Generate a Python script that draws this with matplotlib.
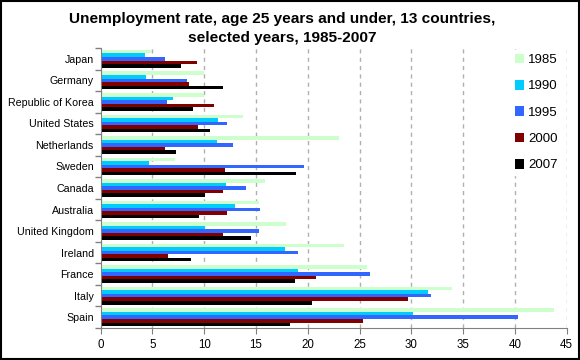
import numpy as np
import matplotlib
matplotlib.use("Agg")
import matplotlib.pyplot as plt

plt.rcParams['font.family'] = ['Liberation Sans', 'DejaVu Sans']

countries = ['Japan', 'Germany', 'Republic of Korea', 'United States', 'Netherlands',
             'Sweden', 'Canada', 'Australia', 'United Kingdom', 'Ireland',
             'France', 'Italy', 'Spain']
years = ['1985', '1990', '1995', '2000', '2007']
colors = ['#ccffcc', '#00ccff', '#3366ff', '#800000', '#000000']

v1985 = [5.0, 10.0, 10.0, 13.7, 23.0, 7.2, 15.9, 15.3, 17.9, 23.5, 25.7, 33.9, 43.8]
v1990 = [4.3, 4.4, 7.0, 11.3, 11.2, 4.7, 12.1, 13.0, 10.1, 17.8, 19.1, 31.6, 30.2]
v1995 = [6.2, 8.3, 6.4, 12.2, 12.8, 19.6, 14.0, 15.4, 15.3, 19.1, 26.0, 31.9, 40.3]
v2000 = [9.3, 8.5, 10.9, 9.4, 6.2, 12.0, 11.8, 12.2, 11.8, 6.5, 20.8, 29.7, 25.3]
v2007 = [7.8, 11.8, 8.9, 10.6, 7.3, 18.9, 10.1, 9.5, 14.5, 8.7, 18.8, 20.4, 18.3]
series = [v1985, v1990, v1995, v2000, v2007]

fig = plt.figure(figsize=(5.8, 3.6), dpi=100, facecolor='white')
ax = fig.add_axes([0.1736, 0.0889, 0.8034, 0.7778])

n = len(countries)
bh = 0.164
ypos = np.arange(n)[::-1]  # Japan on top
for i, (vals, col, yr) in enumerate(zip(series, colors, years)):
    ax.barh(ypos + (2 - i) * bh, vals, height=bh, color=col, label=yr, zorder=2)

ax.set_xlim(0, 45)
ax.set_ylim(-0.5, n - 0.5)
ax.set_xticks(np.arange(0, 46, 5))
ax.set_yticks(ypos)
ax.set_yticklabels(countries)
ax.set_yticks(np.arange(-0.5, n, 1), minor=True)
ax.tick_params(axis='y', which='major', length=0, labelsize=7.7, pad=5)
ax.tick_params(axis='y', which='minor', length=4, color='#808080', width=1)
ax.tick_params(axis='x', which='major', length=4, color='#808080', labelsize=8.3, pad=4)

for side in ['top', 'right']:
    ax.spines[side].set_visible(False)
for side in ['left', 'bottom']:
    ax.spines[side].set_color('#808080')
ax.grid(True, axis='x', linestyle=(0, (3, 3)), color='#b0b0b0', linewidth=1, zorder=0)
ax.set_axisbelow(True)

ax.set_title('Unemployment rate, age 25 years and under, 13 countries,\nselected years, 1985-2007',
             fontsize=11.1, fontweight='bold', x=0.39, pad=4, linespacing=1.5)

leg = ax.legend(loc='upper left', bbox_to_anchor=(0.869, 0.88), bbox_transform=fig.transFigure,
                frameon=True, facecolor='white', edgecolor='white', framealpha=1,
                fontsize=9.5, handlelength=0.75, handleheight=0.75, handletextpad=0.3,
                labelspacing=1.05, borderpad=0.3)
leg.set_zorder(5)
ax.set_zorder(1)

fig.patches.append(plt.Rectangle((0.001, 0.002), 0.997, 0.996, transform=fig.transFigure,
                                 fill=False, edgecolor='black', linewidth=1.5))

fig.savefig('out.png', dpi=100)
